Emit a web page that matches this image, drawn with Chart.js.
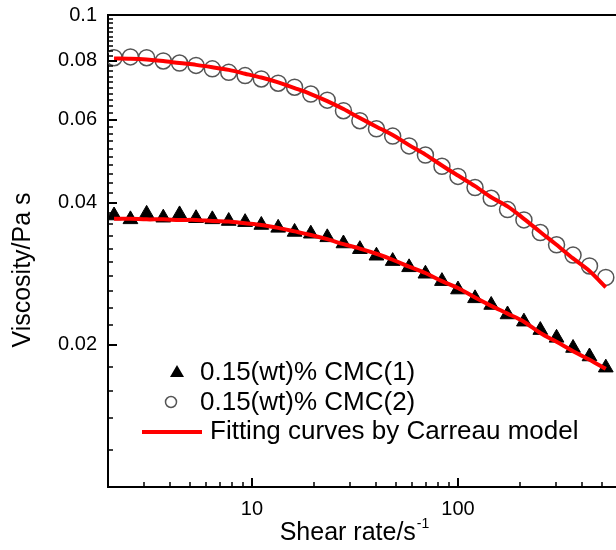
<!DOCTYPE html>
<html>
<head>
<meta charset="utf-8">
<script src="https://cdn.jsdelivr.net/npm/chart.js@4.4.0/dist/chart.umd.min.js"></script>
<style>
html, body { margin: 0; padding: 0; background: #fff; overflow: hidden; }
#wrap { width: 616px; height: 550px; }
</style>
</head>
<body>
<div id="wrap"><canvas id="chart" width="616" height="550"></canvas></div>
<script>
// shear rate (1/s)
const shearRate = [2.14, 2.57, 3.08, 3.71, 4.45, 5.35, 6.42, 7.71, 9.26, 11.1, 13.4, 16.1, 19.3, 23.2, 27.8, 33.4,
    40.2, 48.2, 57.9, 69.5, 83.6, 100, 121, 145, 174, 209, 251, 301, 362, 435, 522];

// measured viscosity (Pa s)
const cmc1 = [0.0376, 0.0369, 0.0379, 0.0372, 0.0378, 0.0371, 0.0369, 0.0366, 0.0364, 0.0359, 0.0354, 0.0347, 0.0344,
    0.0338, 0.0328, 0.0319, 0.0309, 0.0301, 0.0292, 0.0283, 0.0273, 0.0262, 0.0251, 0.0243, 0.0232, 0.0224, 0.0215,
    0.0207, 0.0197, 0.0189, 0.0179];
const cmc2 = [0.0812, 0.0815, 0.0812, 0.0799, 0.0791, 0.0782, 0.0769, 0.0756, 0.0744, 0.0732, 0.0717, 0.0703, 0.0680,
    0.0660, 0.0627, 0.0597, 0.0574, 0.0554, 0.0528, 0.0505, 0.0478, 0.0455, 0.0431, 0.0409, 0.0387, 0.0368, 0.0346,
    0.0326, 0.0310, 0.0294, 0.0278];

// Carreau fit curves
const fit1 = [0.0370, 0.0370, 0.0369, 0.0369, 0.0368, 0.0368, 0.0366, 0.0365, 0.0362, 0.0359, 0.0354, 0.0348, 0.0342,
    0.0335, 0.0327, 0.0320, 0.0312, 0.0303, 0.0293, 0.0284, 0.0273, 0.0264, 0.0252, 0.0242, 0.0233, 0.0224, 0.0212,
    0.0203, 0.0194, 0.0186, 0.0178];
const fit2 = [0.0809, 0.0808, 0.0805, 0.0799, 0.0791, 0.0784, 0.0775, 0.0765, 0.0751, 0.0737, 0.0720, 0.0700, 0.0680,
    0.0657, 0.0632, 0.0605, 0.0580, 0.0557, 0.0530, 0.0506, 0.0480, 0.0457, 0.0434, 0.0411, 0.0393, 0.0370, 0.0347,
    0.0326, 0.0305, 0.0287, 0.0265];

const seriesLabels = ["0.15(wt)% CMC(1)", "0.15(wt)% CMC(2)", "Fitting curves by Carreau model"];

// axis ticks
const xMajor = [10, 100];
const xMinor = [3, 4, 5, 6, 7, 8, 9, 20, 30, 40, 50, 60, 70, 80, 90, 200, 300, 400, 500];
const yMajor = [0.02, 0.04, 0.06, 0.08, 0.1];
const yMinor = [0.012, 0.014, 0.016, 0.018, 0.022, 0.024, 0.026, 0.028, 0.03, 0.032, 0.034, 0.036, 0.038,
    0.042, 0.044, 0.046, 0.048, 0.05, 0.052, 0.054, 0.056, 0.058, 0.062, 0.064, 0.066, 0.068, 0.07, 0.072,
    0.074, 0.076, 0.078, 0.082, 0.084, 0.086, 0.088, 0.09, 0.092, 0.094, 0.096, 0.098];

const FONT = "'Liberation Sans', Arial, sans-serif";

const toPoints = (ys) => shearRate.map((x, i) => ({ x: x, y: ys[i] }));

//Origin style: ticks inward, top frame, titles and legend inside the plot
const originFrame = {
    id: "originFrame",
    afterDraw(chart) {
        const { ctx, chartArea: area, scales } = chart;
        ctx.save();
        ctx.strokeStyle = "#000";

        ctx.lineWidth = 2;
        ctx.beginPath();
        ctx.moveTo(area.left - 1, area.top);
        ctx.lineTo(area.right, area.top);
        xMajor.forEach(v => {
            const px = Math.round(scales.x.getPixelForValue(v));
            ctx.moveTo(px, area.bottom);
            ctx.lineTo(px, area.bottom - 9);
        });
        yMajor.forEach(v => {
            const py = Math.round(scales.y.getPixelForValue(v));
            ctx.moveTo(area.left, py);
            ctx.lineTo(area.left + 9, py);
        });
        ctx.stroke();

        ctx.lineWidth = 1.5;
        ctx.beginPath();
        xMinor.forEach(v => {
            const px = Math.round(scales.x.getPixelForValue(v));
            ctx.moveTo(px, area.bottom);
            ctx.lineTo(px, area.bottom - 5);
        });
        yMinor.forEach(v => {
            const py = Math.round(scales.y.getPixelForValue(v));
            ctx.moveTo(area.left, py);
            ctx.lineTo(area.left + 5, py);
        });
        ctx.stroke();

        // axis titles
        ctx.fillStyle = "#000";
        ctx.font = "25px " + FONT;
        ctx.textAlign = "center";
        ctx.textBaseline = "middle";
        ctx.save();
        ctx.translate(23, 270);
        ctx.rotate(-Math.PI / 2);
        ctx.fillText("Viscosity/Pa s", 0, 0);
        ctx.restore();

        const main = "Shear rate/s";
        const sup = "-1";
        ctx.font = "25px " + FONT;
        const wMain = ctx.measureText(main).width;
        ctx.font = "14px " + FONT;
        const wSup = ctx.measureText(sup).width;
        const startX = 354 - (wMain + wSup) / 2;
        ctx.textAlign = "left";
        ctx.textBaseline = "alphabetic";
        ctx.font = "25px " + FONT;
        ctx.fillText(main, startX, 540);
        ctx.font = "14px " + FONT;
        ctx.fillText(sup, startX + wMain + 1, 528);

        // legend
        ctx.font = "26px " + FONT;
        ctx.textBaseline = "middle";

        ctx.fillStyle = "#000";
        ctx.beginPath();
        ctx.moveTo(177, 365);
        ctx.lineTo(184, 377);
        ctx.lineTo(170, 377);
        ctx.closePath();
        ctx.fill();
        ctx.fillText(seriesLabels[0], 200, 373);

        ctx.strokeStyle = "#555";
        ctx.lineWidth = 1.5;
        ctx.beginPath();
        ctx.arc(171, 402, 5.5, 0, Math.PI * 2);
        ctx.stroke();
        ctx.fillText(seriesLabels[1], 200, 403);

        ctx.strokeStyle = "#ff0000";
        ctx.lineWidth = 4;
        ctx.beginPath();
        ctx.moveTo(142, 432);
        ctx.lineTo(202, 432);
        ctx.stroke();
        ctx.fillText(seriesLabels[2], 210, 432);

        ctx.restore();
    }
};

const myChart = new Chart(document.getElementById("chart"), {
    type: "scatter",
    plugins: [originFrame],
    data: {
        datasets: [
            {
                label: seriesLabels[2],
                data: toPoints(fit1),
                showLine: true,
                borderColor: "#ff0000",
                borderWidth: 4,
                pointRadius: 0,
                tension: 0.3,
                order: 0
            },
            {
                label: seriesLabels[2],
                data: toPoints(fit2),
                showLine: true,
                borderColor: "#ff0000",
                borderWidth: 4,
                pointRadius: 0,
                tension: 0.3,
                order: 0
            },
            {
                label: seriesLabels[0],
                data: toPoints(cmc1),
                pointStyle: "triangle",
                pointRadius: 8.5,
                backgroundColor: "#000",
                borderColor: "#000",
                borderWidth: 1,
                order: 1
            },
            {
                label: seriesLabels[1],
                data: toPoints(cmc2),
                pointStyle: "circle",
                pointRadius: 8,
                backgroundColor: "rgba(0,0,0,0)",
                borderColor: "#555",
                borderWidth: 1.5,
                order: 1
            }
        ]
    },
    options: {
        responsive: false,
        animation: false,
        devicePixelRatio: 1,
        layout: { autoPadding: false, padding: { top: 15, right: 0, left: 0, bottom: 0 } },
        plugins: {
            legend: { display: false },
            tooltip: { enabled: false }
        },
        scales: {
            x: {
                type: "logarithmic",
                min: 2,
                max: 585,
                bounds: "data",
                grid: { display: false, drawTicks: false },
                border: { display: true, color: "#000", width: 2 },
                afterBuildTicks: (scale) => { scale.ticks = xMajor.map(v => ({ value: v })); },
                afterFit: (scale) => {
                    scale.height = 63;
                    scale.paddingLeft = 0;
                    scale.paddingRight = 0;
                },
                ticks: {
                    autoSkip: false,
                    maxRotation: 0,
                    padding: 10,
                    color: "#000",
                    font: { family: FONT, size: 20 },
                    callback: (v) => String(v)
                }
            },
            y: {
                type: "logarithmic",
                min: 0.01,
                max: 0.1,
                bounds: "data",
                grid: { display: false, drawTicks: false },
                border: { display: true, color: "#000", width: 2 },
                afterBuildTicks: (scale) => { scale.ticks = yMajor.map(v => ({ value: v })); },
                afterFit: (scale) => {
                    scale.width = 108;
                    scale.paddingTop = 0;
                    scale.paddingBottom = 0;
                },
                ticks: {
                    autoSkip: false,
                    padding: 11,
                    color: "#000",
                    font: { family: FONT, size: 20 },
                    callback: (v) => String(v)
                }
            }
        }
    }
});
</script>
</body>
</html>
